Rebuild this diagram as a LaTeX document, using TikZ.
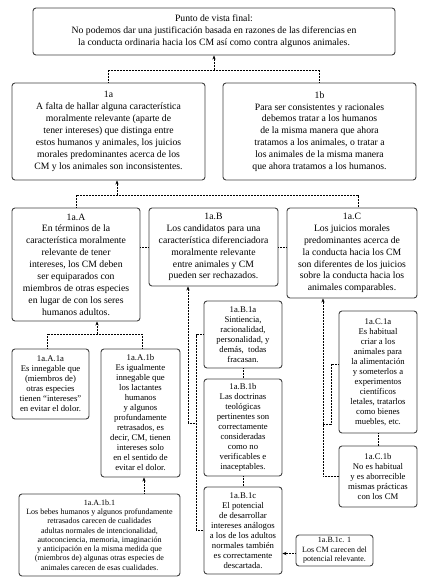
\documentclass[tikz,border=0pt]{standalone}
\usepackage{fontspec}
\setmainfont{Liberation Serif}
\usetikzlibrary{arrows.meta,calc}
\tikzset{
  x=1pt,y=-1pt,
  box/.style={draw=black!75,line width=0.9pt,rounded corners=3pt,align=center,inner sep=0pt,fill=white},
  big/.style={box,font=\fontsize{9.7}{11.9}\selectfont},
  small/.style={box,font=\fontsize{8.7}{10}\selectfont},
  tiny/.style={box,font=\fontsize{8}{9.3}\selectfont},
  conn/.style={line width=0.6pt,dash pattern=on 0.7pt off 0.8pt},
  arr/.style={conn,-{Stealth[length=4pt,width=3.2pt]}},
}
\begin{document}
\begin{tikzpicture}
\useasboundingbox (0,0) rectangle (431,587);
% level 0
\node[big,minimum width=362pt,minimum height=47pt] (top) at (214,31.5) {Punto de vista final:\\No podemos dar una justificación basada en razones de las diferencias en\\la conducta ordinaria hacia los CM así como contra algunos animales.};
% level 1
\node[big,minimum width=193pt,minimum height=97pt] (n1a) at (108.5,131.5) {1a\\A falta de hallar alguna característica\\moralmente relevante (aparte de\\tener intereses) que distinga entre\\estos humanos y animales, los juicios\\morales predominantes acerca de los\\CM y los animales son inconsistentes.};
\node[big,minimum width=193pt,minimum height=97pt] (n1b) at (319.5,131.5) {1b\\Para ser consistentes y racionales\\debemos tratar a los humanos\\de la misma manera que ahora\\tratamos a los animales, o tratar a\\los animales de la misma manera\\que ahora tratamos a los humanos.};
% level 2
\node[big,minimum width=128pt,minimum height=113pt] (nA) at (76,264.5) {1a.A\\En términos de la\\característica moralmente\\relevante de tener\\intereses, los CM deben\\ser equiparados con\\miembros de otras especies\\en lugar de con los seres\\humanos adultos.};
\node[big,minimum width=129pt,minimum height=78pt] (nB) at (213.5,247) {1a.B\\Los candidatos para una\\característica diferenciadora\\moralmente relevante\\entre animales y CM\\pueden ser rechazados.};
\node[big,minimum width=130pt,minimum height=90pt] (nC) at (352,253) {1a.C\\Los juicios morales\\predominantes acerca de\\la conducta hacia los CM\\son diferentes de los juicios\\sobre la conducta hacia los\\animales comparables.};
% level 3 - A
\node[small,minimum width=77pt,minimum height=70pt] (nAa) at (50.5,384) {1a.A.1a\\Es innegable que\\(miembros de)\\otras especies\\tienen “intereses”\\en evitar el dolor.};
\node[small,minimum width=79pt,minimum height=128pt] (nAb) at (140.5,413) {1a.A.1b\\Es igualmente\\innegable que\\los lactantes\\humanos\\y algunos\\profundamente\\retrasados, es\\decir, CM, tienen\\intereses solo\\en el sentido de\\evitar el dolor.};
\node[tiny,minimum width=161pt,minimum height=82pt] (nAb1) at (99.5,535) {1a.A.1b.1\\Los bebes humanos y algunos profundamente\\retrasados carecen de cualidades\\adultas normales de intencionalidad,\\autoconciencia, memoria, imaginación\\y anticipación en la misma medida que\\(miembros de) algunas otras especies de\\animales carecen de esas cualidades.};
% level 3 - B
\node[small,minimum width=78pt,minimum height=67pt] (nBa) at (243,334.5) {1a.B.1a\\Sintiencia,\\racionalidad,\\personalidad, y\\demás,~ todas\\fracasan.};
\node[small,minimum width=78pt,minimum height=97pt] (nBb) at (243,427.5) {1a.B.1b\\Las doctrinas\\teológicas\\pertinentes son\\correctamente\\consideradas\\como no\\verificables e\\inaceptables.};
\node[small,minimum width=78pt,minimum height=87pt] (nBc) at (243,530.5) {1a.B.1c\\El potencial\\de desarrollar\\intereses análogos\\a los de los adultos\\normales también\\es correctamente\\descartada.};
\node[tiny,minimum width=77pt,minimum height=31pt] (nBc1) at (334.5,550.5) {1a.B.1c. 1\\Los CM carecen del\\potencial relevante.};
% level 3 - C
\node[small,minimum width=78pt,minimum height=122pt] (nCa) at (378,372) {1a.C.1a\\Es habitual\\criar a los\\animales para\\la alimentación\\y someterlos a\\experimentos\\científicos\\letales, tratarlos\\como bienes\\muebles, etc.};
\node[small,minimum width=78pt,minimum height=61pt] (nCb) at (378,476.5) {1a.C.1b\\No es habitual\\y es aborrecible\\mismas prácticas\\con los CM};
% connectors: top
\coordinate (j1) at (214,70);
\draw[conn] (n1a.north) |- (j1) -| (n1b.north);
\draw[arr] (j1) -- (top.south);
% 1a children
\coordinate (j2) at (117,195);
\draw[conn] (nA.north) |- (j2) -| ([xshift=6pt]nC.north);
\draw[arr] (j2) -- (j2 |- n1a.south);
\draw[conn] (nA.east |- nB.west) -- (nB.west);
\draw[conn] (nB.east) -- (nC.west |- nB.east);
% 1a.A children
\coordinate (j3) at (97,334);
\draw[conn] ([xshift=-3pt]nAa.north) |- (j3) -| ([xshift=1.5pt]nAb.north);
\draw[arr] (j3) -- (j3 |- nA.south);
\draw[arr] ([xshift=3.5pt]nAb.south |- nAb1.north) -- ([xshift=3.5pt]nAb.south);
% 1a.B children
\coordinate (j4) at (188,423);
\coordinate (k1) at (196,334.5);
\draw[arr] (j4) -- (j4 |- nB.south);
\draw[conn] (j4) -- (j4 -| k1);
\draw[conn] (nBa.west) -- (k1) |- (nBc.west);
\draw[conn] (nBa.south) -- (nBb.north);
\draw[conn] (nBb.south) -- (nBc.north);
\draw[arr] ([yshift=-3pt]nBc1.west) -- ([yshift=-3pt]nBc1.west -| nBc.east);
% 1a.C children
\coordinate (j6) at (323,476.5);
\coordinate (k2) at (331,424);
\draw[arr] (j6) -- (j6 |- nC.south);
\draw[conn] (j6) -- (nCb.west);
\draw[conn] ([yshift=8pt]nCa.west) -| (k2) -- (k2 -| j6);
\draw[conn] (nCa.south) -- (nCb.north);
\end{tikzpicture}
\end{document}
